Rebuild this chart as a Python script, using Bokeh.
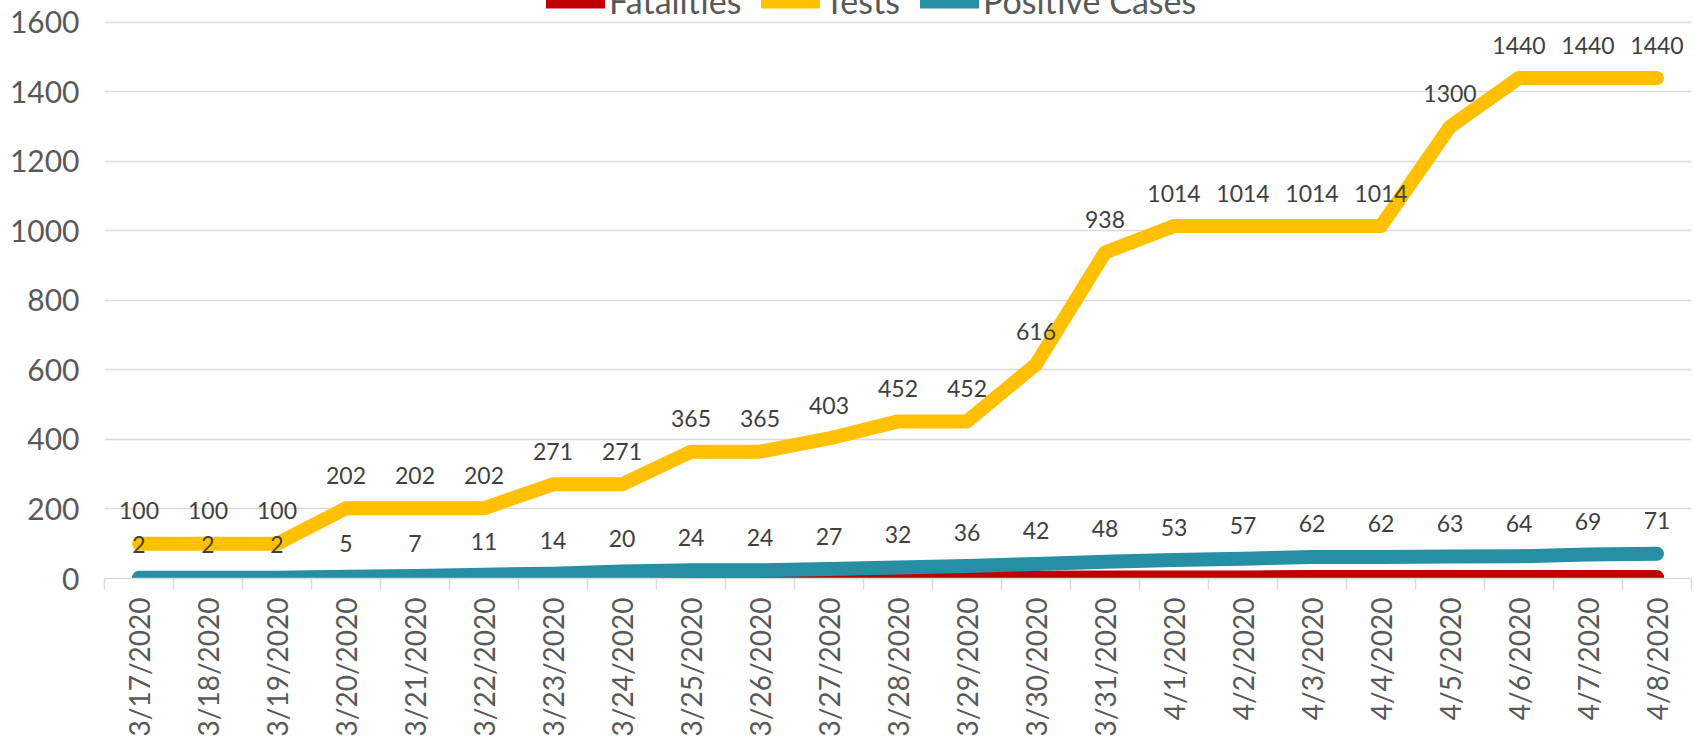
from math import pi
from bokeh.plotting import figure
from bokeh.models import ColumnDataSource, FixedTicker, Legend, LegendItem, Range1d
from bokeh.core.properties import value
from bokeh.embed import file_html
from bokeh.resources import INLINE

dates = ["3/17/2020", "3/18/2020", "3/19/2020", "3/20/2020", "3/21/2020", "3/22/2020",
         "3/23/2020", "3/24/2020", "3/25/2020", "3/26/2020", "3/27/2020", "3/28/2020",
         "3/29/2020", "3/30/2020", "3/31/2020", "4/1/2020", "4/2/2020", "4/3/2020",
         "4/4/2020", "4/5/2020", "4/6/2020", "4/7/2020", "4/8/2020"]
fatalities = [0, 0, 0, 0, 0, 1, 1, 1, 1, 1, 1, 1, 2, 2, 3, 3, 3, 4, 4, 4, 4, 4, 4]
tests = [100, 100, 100, 202, 202, 202, 271, 271, 365, 365, 403, 452, 452, 616, 938,
         1014, 1014, 1014, 1014, 1300, 1440, 1440, 1440]
positive = [2, 2, 2, 5, 7, 11, 14, 20, 24, 24, 27, 32, 36, 42, 48, 53, 57, 62, 62,
            63, 64, 69, 71]
y_ticks = [0, 200, 400, 600, 800, 1000, 1200, 1400, 1600]

idx = list(range(len(dates)))
src = ColumnDataSource(dict(
    x=idx, fat=fatalities, tests=tests, pos=positive,
    tests_lbl=[str(v) for v in tests], pos_lbl=[str(v) for v in positive]))

FONT = "Lato"
# the plot area runs a little above the top gridline so that the legend,
# which sits at the very top of the chart, lies inside the drawable frame
p = figure(width=1694, height=739, output_backend="svg", toolbar_location=None,
           x_range=Range1d(-0.5, len(dates) - 0.5), y_range=Range1d(0, 1663),
           min_border_left=104, min_border_right=3, min_border_top=0,
           min_border_bottom=160)
p.outline_line_color = None
p.background_fill_color = "white"
p.border_fill_color = "white"

lw = 14
r_f = p.line("x", "fat", source=src, line_color="#C00000", line_width=lw,
             line_cap="round", line_join="round")
r_t = p.line("x", "tests", source=src, line_color="#FFC000", line_width=lw,
             line_cap="round", line_join="round")
r_p = p.line("x", "pos", source=src, line_color="#268FA3", line_width=lw,
             line_cap="round", line_join="round")

for col, lbl in (("tests", "tests_lbl"), ("pos", "pos_lbl")):
    p.text(x="x", y=col, text=lbl, source=src, y_offset=-33, text_align="center",
           text_baseline="middle", text_font=value(FONT), text_font_size="23px",
           text_color="#404040")

# x axis: labels at category centres, separator ticks between categories
xa = p.xaxis[0]
xa.ticker = FixedTicker(ticks=idx, minor_ticks=[i - 0.5 for i in range(len(dates) + 1)])
xa.major_label_overrides = {i: d for i, d in enumerate(dates)}
xa.major_label_orientation = pi / 2
xa.major_tick_line_color = None
xa.major_tick_out = 0
xa.major_tick_in = 0
xa.minor_tick_out = 11
xa.minor_tick_in = 0
xa.minor_tick_line_color = "#d9d9d9"
xa.minor_tick_line_width = 1.5
xa.axis_line_color = "#d9d9d9"
xa.axis_line_width = 1.5
xa.major_label_standoff = 8
xa.major_label_text_font = FONT
xa.major_label_text_font_size = "28px"
xa.major_label_text_color = "#595959"
p.xgrid.visible = False

# y axis
ya = p.yaxis[0]
ya.ticker = FixedTicker(ticks=y_ticks)
ya.axis_line_color = None
ya.major_tick_line_color = None
ya.minor_tick_line_color = None
ya.major_tick_out = 0
ya.major_tick_in = 0
ya.major_label_standoff = 25
ya.major_label_text_font = FONT
ya.major_label_text_font_size = "30px"
ya.major_label_text_color = "#595959"
p.ygrid.grid_line_color = "#d9d9d9"
p.ygrid.grid_line_width = 1.5

legend = Legend(items=[LegendItem(label="Fatalities", renderers=[r_f]),
                       LegendItem(label="Tests", renderers=[r_t]),
                       LegendItem(label="Positive Cases", renderers=[r_p])],
                orientation="horizontal", location=(442, 557), padding=0, margin=0,
                spacing=20, glyph_width=59, glyph_height=20, label_standoff=4,
                label_text_font=FONT, label_text_font_size="34px",
                label_text_color="#595959", border_line_color=None,
                background_fill_alpha=0)
p.add_layout(legend, "center")

open("out.html", "w").write(file_html(p, INLINE))
